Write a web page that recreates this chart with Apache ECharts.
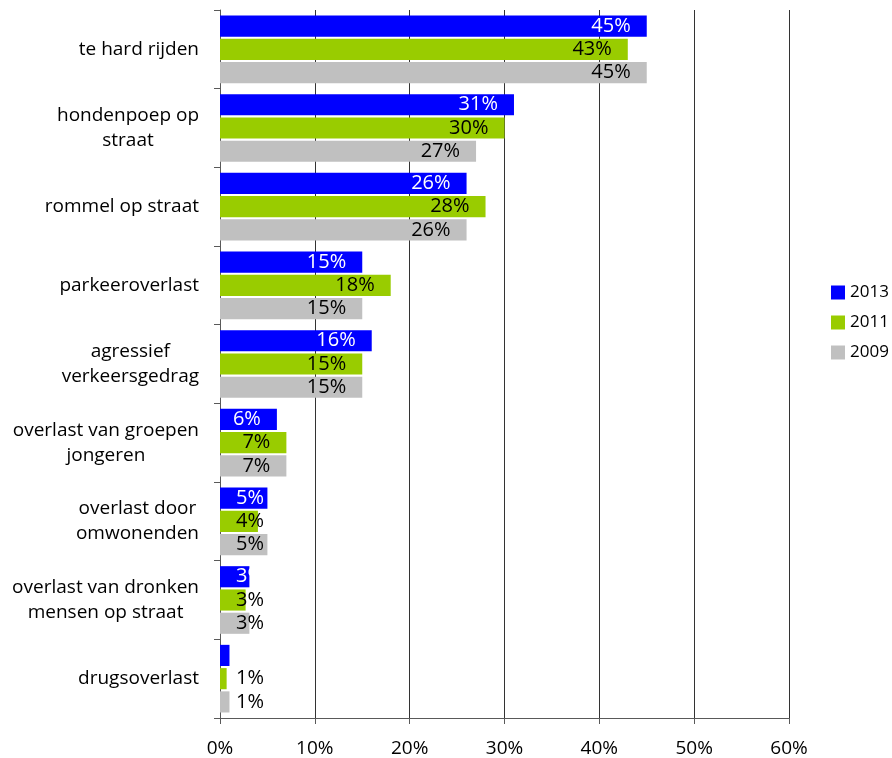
<!DOCTYPE html>
<html>
<head>
<meta charset="utf-8">
<script src="https://cdn.jsdelivr.net/npm/echarts@6/dist/echarts.min.js"></script>
<style>
  html, body { margin: 0; padding: 0; background: #fff; }
  #chart { width: 892px; height: 758px; }
</style>
</head>
<body>
<div id="chart"></div>
<script>
  const categories = [
    'te hard rijden',
    'hondenpoep op\nstraat',
    'rommel op straat',
    'parkeeroverlast',
    'agressief\nverkeersgedrag',
    'overlast van groepen\njongeren',
    'overlast door\nomwonenden',
    'overlast van dronken\nmensen op straat',
    'drugsoverlast'
  ]
  const years = ['2013', '2011', '2009']
  const values2013 = [45, 31, 26, 15, 16, 6, 5, 3.1, 1]
  const values2011 = [43, 30, 28, 18, 15, 7, 4, 2.7, 0.7]
  const values2009 = [45, 27, 26, 15, 15, 7, 5, 3.1, 1]
  const valueLabels2013 = ['45%', '31%', '26%', '15%', '16%', '6%', '5%', '3%', '1%']
  const valueLabels2011 = ['43%', '30%', '28%', '18%', '15%', '7%', '4%', '3%', '1%']
  const valueLabels2009 = ['45%', '27%', '26%', '15%', '15%', '7%', '5%', '3%', '1%']
  const xTicks = [0, 10, 20, 30, 40, 50, 60]

  const font = '"Open Sans", "DejaVu Sans", sans-serif'
  const colors = ['#0000ff', '#99cc00', '#c0c0c0']
  const labelColors = ['#ffffff', '#000000', '#000000']

  function makeSeries (idx, values, texts) {
    return {
      name: years[idx],
      type: 'bar',
      barCategoryGap: '14%',
      barGap: '10%',
      itemStyle: { color: colors[idx] },
      label: {
        show: true,
        position: 'insideRight',
        distance: 16,
        color: labelColors[idx],
        fontFamily: font,
        fontSize: 20,
        formatter: p => texts[p.dataIndex]
      },
      data: values.map(v => v < 5.5
        ? { value: v, label: { position: 'insideLeft', distance: 16 } }
        : v)
    }
  }

  const chart = echarts.init(document.getElementById('chart'))
  chart.setOption({
    animation: false,
    textStyle: { fontFamily: font },
    legend: {
      data: years,
      orient: 'vertical',
      left: 826,
      top: 279,
      itemWidth: 14,
      itemHeight: 14,
      itemGap: 13,
      icon: 'rect',
      textStyle: { fontFamily: font, fontSize: 17, color: '#000' }
    },
    grid: {
      left: 220,
      right: 103,
      top: 10,
      bottom: 40
    },
    xAxis: {
      type: 'value',
      min: xTicks[0],
      max: xTicks[xTicks.length - 1],
      interval: 10,
      axisLine: { show: true, lineStyle: { color: '#595959' } },
      axisTick: { show: true, length: 6, lineStyle: { color: '#595959' } },
      splitLine: { show: true, lineStyle: { color: '#333333', width: 1 } },
      axisLabel: {
        margin: 21,
        fontFamily: font,
        fontSize: 19,
        color: '#000',
        formatter: v => v + '%'
      }
    },
    yAxis: {
      type: 'category',
      inverse: true,
      data: categories,
      axisLine: { show: true, lineStyle: { color: '#595959' } },
      axisTick: { show: true, length: 6, lineStyle: { color: '#595959' } },
      axisLabel: {
        margin: 21,
        color: '#000',
        fontFamily: font,
        fontSize: 19,
        lineHeight: 25,
        formatter: v => v.split('\n').map(s => '{c|' + s + '}').join('\n'),
        rich: {
          c: { align: 'center', fontFamily: font, fontSize: 19, lineHeight: 25, color: '#000' }
        }
      }
    },
    series: [
      makeSeries(0, values2013, valueLabels2013),
      makeSeries(1, values2011, valueLabels2011),
      makeSeries(2, values2009, valueLabels2009)
    ]
  })
</script>
</body>
</html>
